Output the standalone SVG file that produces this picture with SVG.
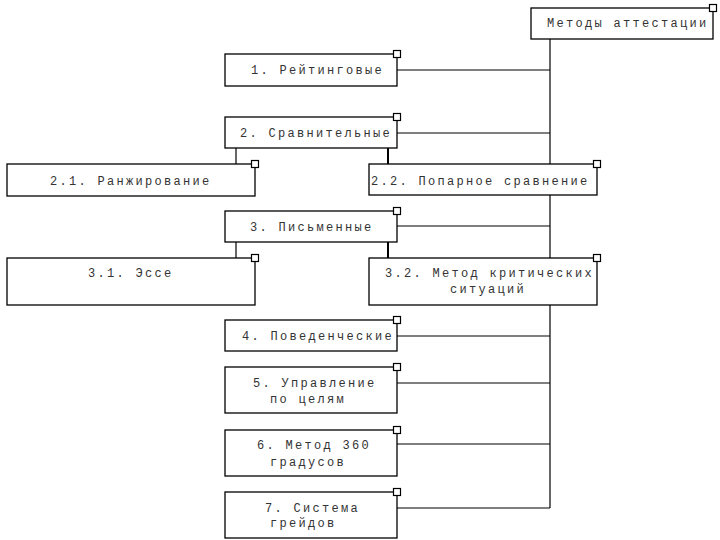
<svg xmlns="http://www.w3.org/2000/svg" width="720" height="540" viewBox="0 0 720 540">
<style>
.box{fill:#fff;stroke:#000;stroke-width:1.3}
.sq{fill:#fff;stroke:#000;stroke-width:1.2}
.ln{stroke:#000;stroke-width:1.2;fill:none}
.thk{stroke:#000;stroke-width:2;fill:none}
text{font-family:"Liberation Mono","Courier New",monospace;font-size:12px;letter-spacing:2.3px;fill:#333}
</style>
<rect width="720" height="540" fill="#fff"/>
<g id="connectors">
<line class="ln" x1="550" y1="39" x2="550" y2="508"/>
<line class="ln" x1="397" y1="70" x2="550" y2="70"/>
<line class="ln" x1="397" y1="133" x2="550" y2="133"/>
<line class="ln" x1="397" y1="226" x2="550" y2="226"/>
<line class="ln" x1="397" y1="336" x2="550" y2="336"/>
<line class="ln" x1="397" y1="383" x2="550" y2="383"/>
<line class="ln" x1="397" y1="444" x2="550" y2="444"/>
<line class="ln" x1="397" y1="508" x2="550" y2="508"/>
<line class="ln" x1="236" y1="148" x2="236" y2="164"/>
<line class="thk" x1="388" y1="148" x2="388" y2="164"/>
<line class="ln" x1="236" y1="242" x2="236" y2="258"/>
<line class="thk" x1="388" y1="242" x2="388" y2="258"/>
</g>
<g id="root">
<rect class="box" x="531" y="8" width="182" height="31"/>
<rect class="sq" x="709.5" y="4.5" width="7" height="7"/>
<text x="547" y="27">Методы аттестации</text>
</g>
<g id="n1">
<rect class="box" x="225" y="54" width="172" height="32"/>
<rect class="sq" x="393.5" y="50.5" width="7" height="7"/>
<text x="251" y="74">1. Рейтинговые</text>
</g>
<g id="n2">
<rect class="box" x="225" y="117" width="172" height="31"/>
<rect class="sq" x="393.5" y="113.5" width="7" height="7"/>
<text x="240" y="137">2. Сравнительные</text>
</g>
<g id="n21">
<rect class="box" x="7" y="164" width="248" height="32"/>
<rect class="sq" x="251.5" y="160.5" width="7" height="7"/>
<text x="50" y="185">2.1. Ранжирование</text>
</g>
<g id="n22">
<rect class="box" x="369" y="164" width="228" height="31"/>
<rect class="sq" x="593.5" y="160.5" width="7" height="7"/>
<text x="371" y="185">2.2. Попарное сравнение</text>
</g>
<g id="n3">
<rect class="box" x="225" y="211" width="172" height="31"/>
<rect class="sq" x="393.5" y="207.5" width="7" height="7"/>
<text x="250" y="231">3. Письменные</text>
</g>
<g id="n31">
<rect class="box" x="7" y="258" width="248" height="47"/>
<rect class="sq" x="251.5" y="254.5" width="7" height="7"/>
<text x="88" y="277">3.1. Эссе</text>
</g>
<g id="n32">
<rect class="box" x="369" y="258" width="228" height="47"/>
<rect class="sq" x="593.5" y="254.5" width="7" height="7"/>
<text x="385" y="277">3.2. Метод критических</text>
<text x="450" y="293">ситуаций</text>
</g>
<g id="n4">
<rect class="box" x="225" y="320" width="172" height="31"/>
<rect class="sq" x="393.5" y="316.5" width="7" height="7"/>
<text x="242" y="340">4. Поведенческие</text>
</g>
<g id="n5">
<rect class="box" x="225" y="367" width="172" height="46"/>
<rect class="sq" x="393.5" y="363.5" width="7" height="7"/>
<text x="253" y="387">5. Управление</text>
<text x="270" y="403">по целям</text>
</g>
<g id="n6">
<rect class="box" x="225" y="430" width="172" height="46"/>
<rect class="sq" x="393.5" y="426.5" width="7" height="7"/>
<text x="257" y="449">6. Метод 360</text>
<text x="270" y="466">градусов</text>
</g>
<g id="n7">
<rect class="box" x="225" y="492" width="172" height="46"/>
<rect class="sq" x="393.5" y="488.5" width="7" height="7"/>
<text x="265" y="512">7. Система</text>
<text x="270" y="527">грейдов</text>
</g>
</svg>
